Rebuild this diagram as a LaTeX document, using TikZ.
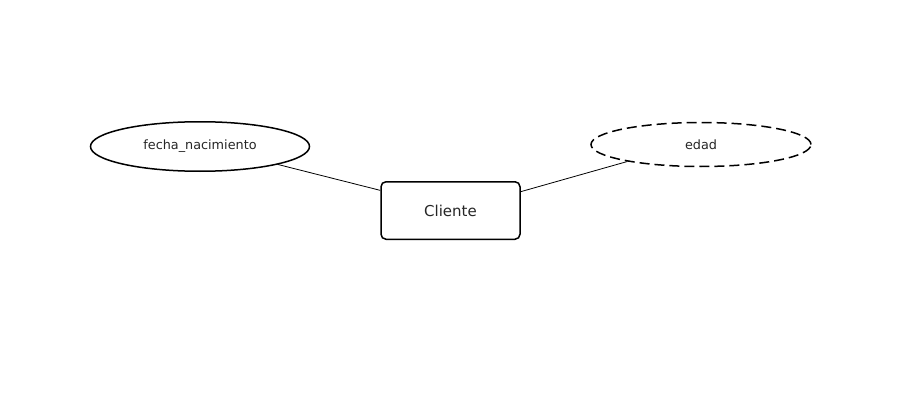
\documentclass[tikz,border=0pt]{standalone}
\usepackage{fontspec}
\setmainfont{DejaVu Sans}
\usetikzlibrary{positioning,shapes}
\tikzset{entity/.style={rectangle,rounded corners=5pt,draw,line width=1.5pt,minimum width=139pt,minimum height=57.5pt,
font=\fontsize{15}{18}\selectfont,text=black!85},
attribute/.style={ellipse,draw,line width=1.5pt,minimum width=219pt,minimum height=49.5pt,inner sep=0pt,
font=\fontsize{12.8}{15}\selectfont,text=black!85},
derived/.style={attribute,dash pattern=on 10pt off 5pt,minimum width=220pt,minimum height=44pt},
link/.style={draw,line width=0.8pt}}

\begin{document}
\begin{tikzpicture}[x=1pt,y=-1pt]
    \useasboundingbox (0,0) rectangle (900,420);

    \node[entity] (cliente) at (450.5,210.5) {Cliente};
    \node[attribute] (fecha) at (200,146.5) {fecha\_nacimiento};
    \node[derived] (edad) at (701,144.5) {edad};

    \path[link]
    (fecha.-13.5)--(cliente.164.5)
    (cliente.15.5)--(edad.193.8);

\end{tikzpicture}
\end{document}
